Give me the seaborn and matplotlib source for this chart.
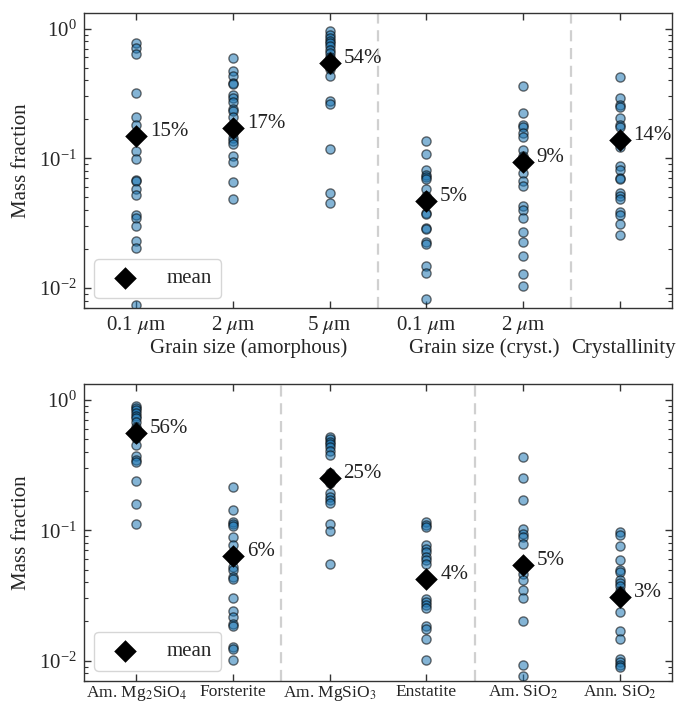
import numpy as np
import pandas as pd
import matplotlib
matplotlib.use("Agg")
import matplotlib.pyplot as plt
import seaborn as sns
from matplotlib.ticker import LogLocator, NullFormatter

sns.set_theme(style="ticks")
plt.rcParams["font.family"] = ["Liberation Serif", "DejaVu Serif"]
plt.rcParams["mathtext.fontset"] = "stix"

# ---------------- data ----------------
top_categories = ["am_0.1", "am_2", "am_5", "cr_0.1", "cr_2", "cryst"]
top_ticklabels = [r"0.1 $\mu$m", r"2 $\mu$m", r"5 $\mu$m", r"0.1 $\mu$m", r"2 $\mu$m", ""]
top_groups = ["Grain size (amorphous)", "Grain size (cryst.)", "Crystallinity"]
top_group_x = [1.16, 3.6, 5.04]

top_am_01 = [0.78, 0.71, 0.64, 0.318, 0.21, 0.18, 0.113, 0.0996, 0.068, 0.067, 0.0577,
             0.0519, 0.0365, 0.0344, 0.0299, 0.0232, 0.0204, 0.00736]
top_am_2 = [0.589, 0.471, 0.433, 0.379, 0.374, 0.308, 0.291, 0.274, 0.239, 0.230, 0.210,
            0.182, 0.157, 0.144, 0.135, 0.128, 0.104, 0.0933, 0.066, 0.049]
top_am_5 = [0.96, 0.90, 0.84, 0.80, 0.77, 0.73, 0.69, 0.65, 0.605, 0.49, 0.431, 0.279,
            0.263, 0.119, 0.0544, 0.045]
top_cr_01 = [0.135, 0.109, 0.082, 0.075, 0.072, 0.0688, 0.0577, 0.0513, 0.0382, 0.0371,
             0.0293, 0.0284, 0.0225, 0.0218, 0.0147, 0.0130, 0.0083]
top_cr_2 = [0.363, 0.223, 0.182, 0.174, 0.157, 0.146, 0.117, 0.104, 0.0774, 0.0668, 0.0611,
            0.0430, 0.0398, 0.0350, 0.0269, 0.0228, 0.0178, 0.0129, 0.0104]
top_cryst = [0.421, 0.291, 0.258, 0.248, 0.204, 0.182, 0.173, 0.138, 0.122, 0.0870, 0.0820,
             0.0709, 0.0688, 0.0537, 0.0513, 0.0483, 0.0386, 0.0365, 0.0311, 0.0258]
top_means = [0.148, 0.172, 0.54, 0.047, 0.093, 0.139]

bot_categories = ["Am. Mg$_2$SiO$_4$", "Forsterite", "Am. MgSiO$_3$", "Enstatite",
                  "Am. SiO$_2$", "Ann. SiO$_2$"]
bot_mg2sio4 = [0.90, 0.86, 0.83, 0.79, 0.753, 0.723, 0.68, 0.623, 0.507, 0.451, 0.371,
               0.345, 0.335, 0.238, 0.160, 0.111]
bot_forsterite = [0.213, 0.1425, 0.116, 0.1125, 0.108, 0.0889, 0.0767, 0.0588, 0.0522,
                  0.0499, 0.0438, 0.0425, 0.0302, 0.0242, 0.0216, 0.0192, 0.0184, 0.0128,
                  0.0123, 0.0101]
bot_mgsio3 = [0.522, 0.498, 0.478, 0.459, 0.437, 0.408, 0.378, 0.273, 0.229, 0.192, 0.180,
              0.170, 0.163, 0.111, 0.0988, 0.0554]
bot_enstatite = [0.116, 0.109, 0.105, 0.0767, 0.0723, 0.0681, 0.0623, 0.0588, 0.0554,
                 0.0298, 0.0281, 0.0265, 0.0254, 0.0186, 0.0175, 0.0147, 0.0101]
bot_am_sio2 = [0.362, 0.25, 0.170, 0.103, 0.0932, 0.0889, 0.078, 0.057, 0.0464, 0.0413,
               0.035, 0.0303, 0.020, 0.0093, 0.0077]
bot_ann_sio2 = [0.097, 0.0915, 0.0757, 0.0588, 0.0499, 0.0478, 0.0413, 0.0394, 0.0371,
                0.0341, 0.029, 0.0236, 0.0168, 0.0147, 0.0103, 0.0097, 0.0092, 0.0089]
bot_means = [0.56, 0.064, 0.25, 0.0425, 0.054, 0.031]

top_series = [top_am_01, top_am_2, top_am_5, top_cr_01, top_cr_2, top_cryst]
bot_series = [bot_mg2sio4, bot_forsterite, bot_mgsio3, bot_enstatite, bot_am_sio2, bot_ann_sio2]


def long_df(cats, series):
    rows = []
    for c, vals in zip(cats, series):
        for v in vals:
            rows.append((c, v))
    return pd.DataFrame(rows, columns=["cat", "value"])


fig = plt.figure(figsize=(6.89, 7.02), dpi=100)
ax_top = fig.add_axes([0.122, 0.561, 0.853, 0.4205])
ax_bot = fig.add_axes([0.122, 0.030, 0.853, 0.423])

point_color = "#1f77b4"


def draw(ax, cats, series, means, dashes):
    df = long_df(cats, series)
    mdf = pd.DataFrame({"cat": cats, "value": means})
    ax.set_yscale("log")
    sns.stripplot(data=df, x="cat", y="value", order=cats, jitter=False, ax=ax,
                  color=point_color, alpha=0.55, size=6.6, linewidth=1.0,
                  edgecolor="black", zorder=2)
    sns.stripplot(data=mdf, x="cat", y="value", order=cats, jitter=False, ax=ax,
                  color="black", marker="D", size=11.5, linewidth=0, zorder=4,
                  label="mean")
    for i, m in enumerate(means):
        ax.annotate(f"{m * 100:.0f}%", xy=(i, m), xytext=(10, 0),
                    textcoords="offset points", va="baseline", ha="left",
                    fontsize=15, color="#222222")
    for d in dashes:
        ax.axvline(d, color="#d0d0d0", ls=(0, (5, 3)), lw=1.6, zorder=1)
    ax.set_xlim(-0.54, 5.54)
    ax.set_ylim(0.007, 1.32)
    ax.set_xlabel("")
    ax.set_ylabel("Mass fraction", fontsize=15)
    ax.yaxis.set_label_coords(-0.09, 0.5)
    ax.yaxis.set_major_locator(LogLocator(base=10, numticks=10))
    ax.yaxis.set_minor_locator(LogLocator(base=10, subs=np.arange(2, 10), numticks=20))
    ax.yaxis.set_minor_formatter(NullFormatter())
    ax.tick_params(axis="both", which="both", direction="in", top=True, right=True,
                   color="#333333")
    ax.tick_params(axis="both", which="major", length=5, width=1)
    ax.tick_params(axis="both", which="minor", length=3, width=0.8)
    ax.tick_params(axis="y", labelsize=15, pad=5)
    for s in ax.spines.values():
        s.set_color("#333333")
        s.set_linewidth(1.0)
    handles, labels = ax.get_legend_handles_labels()
    h = [hh for hh, ll in zip(handles, labels) if ll == "mean"][:1]
    ax.legend(h, ["mean"], loc="lower left", fontsize=15, frameon=True,
              borderpad=0.45, handletextpad=1.0, markerscale=1.0)


draw(ax_top, top_categories, top_series, top_means, [2.5, 4.5])
ax_top.set_xticks(range(len(top_categories)))
ax_top.set_xticklabels(top_ticklabels, fontsize=15)
ax_top.tick_params(axis="x", pad=4)
for g, gx in zip(top_groups, top_group_x):
    ax_top.annotate(g, xy=(gx, 0), xycoords=("data", "axes fraction"),
                    xytext=(0, -29), textcoords="offset points",
                    ha="center", va="center", fontsize=15)

draw(ax_bot, bot_categories, bot_series, bot_means, [1.5, 3.5])
ax_bot.set_xticks(range(len(bot_categories)))
ax_bot.set_xticklabels(bot_categories, fontsize=12.5)
ax_bot.tick_params(axis="x", pad=2)

fig.savefig("out.png", dpi=100)
